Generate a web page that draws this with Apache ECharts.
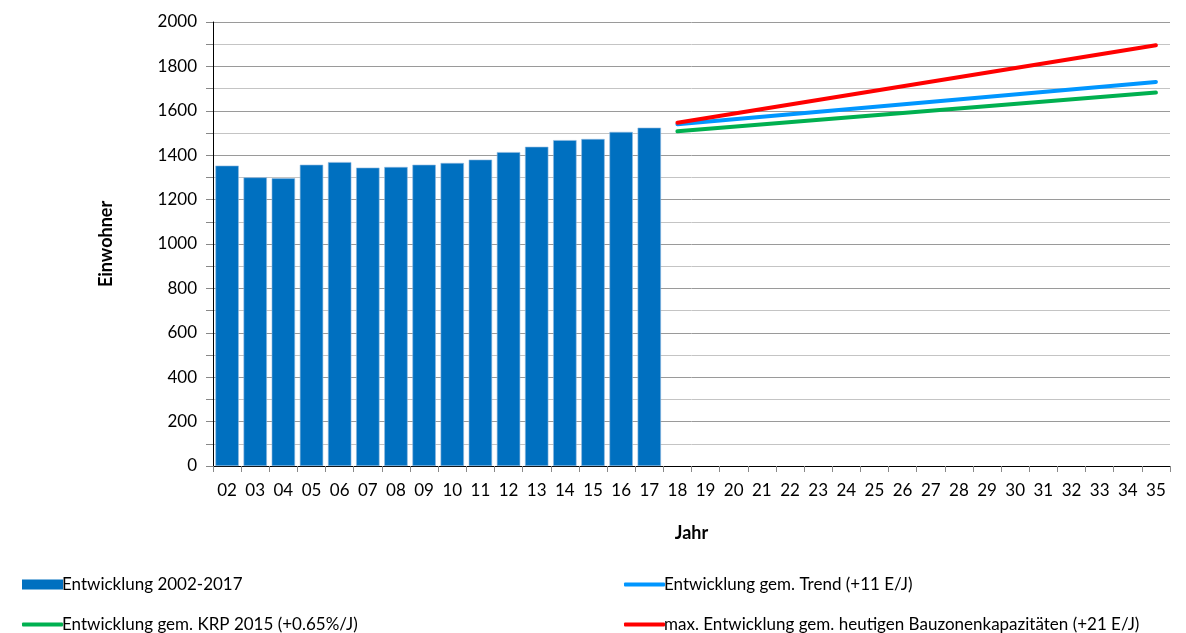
<!DOCTYPE html>
<html><head><meta charset="utf-8">
<script src="https://cdn.jsdelivr.net/npm/echarts@6/dist/echarts.min.js"></script>
<style>html,body{margin:0;padding:0;background:#fff}#c{width:1186px;height:633px}</style>
</head><body><div id="c"></div>
<script>
const years = ['02','03','04','05','06','07','08','09','10','11','12','13','14','15','16','17','18','19','20','21','22','23','24','25','26','27','28','29','30','31','32','33','34','35'];
const historic = [1353,1300,1296,1357,1369,1344,1347,1357,1365,1380,1414,1438,1468,1473,1505,1524];
// projections: start (2018) and end (2035)
const trendStart = 1539, trendEnd = 1730;
const krpStart = 1508, krpEnd = 1682;
const maxStart = 1546, maxEnd = 1895;
const names = ['Entwicklung 2002-2017','Entwicklung gem. Trend (+11 E/J)','Entwicklung gem. KRP 2015 (+0.65%/J)','max. Entwicklung gem. heutigen Bauzonenkapazitäten (+21 E/J)'];

function endpoints(a, b) {
  const arr = years.map(() => null);
  arr[years.indexOf('18')] = a;
  arr[years.indexOf('35')] = b;
  return arr;
}
const barData = years.map((y, i) => i < historic.length ? historic[i] : null);
const font = 'Lato, "Open Sans", sans-serif';
const legendBase = { itemWidth: 41, itemHeight: 10, itemGap: 0, textStyle: { fontFamily: font, fontSize: 17, color: '#000', padding: [0,0,0,-6] } };
const chart = echarts.init(document.getElementById('c'), null, { renderer: 'canvas' });
chart.setOption({
  animation: false,
  grid: { left: 213, right: 16, top: 22, bottom: 167 },
  legend: [
    Object.assign({}, legendBase, { left: 17, top: 571, data: [{ name: names[0], icon: 'rect', itemStyle: { borderWidth: 0, color: '#0070C0' } }] }),
    Object.assign({}, legendBase, { left: 619, top: 571, data: [{ name: names[1], icon: 'roundRect' }], itemHeight: 4 }),
    Object.assign({}, legendBase, { left: 17, top: 611, data: [{ name: names[2], icon: 'roundRect' }], itemHeight: 4 }),
    Object.assign({}, legendBase, { left: 619, top: 611, data: [{ name: names[3], icon: 'roundRect' }], itemHeight: 4 })
  ],
  xAxis: {
    type: 'category', data: years, boundaryGap: true,
    name: 'Jahr', nameLocation: 'middle', nameGap: 58,
    nameTextStyle: { fontFamily: font, fontSize: 18, fontWeight: 'bold', color: '#000' },
    axisLine: { lineStyle: { color: '#000', width: 1 } },
    axisTick: { show: true, length: 6, lineStyle: { color: '#888' } },
    axisLabel: { fontFamily: font, fontSize: 17, color: '#000', margin: 16, interval: 0 }
  },
  yAxis: {
    type: 'value', min: 0, max: 2000, interval: 200,
    name: 'Einwohner', nameLocation: 'middle', nameGap: 98,
    nameTextStyle: { fontFamily: font, fontSize: 18, fontWeight: 'bold', color: '#000' },
    axisLine: { show: true, lineStyle: { color: '#000', width: 1 } },
    axisTick: { show: true, length: 7, lineStyle: { color: '#888' } },
    minorTick: { show: true, splitNumber: 2, length: 7, lineStyle: { color: '#888' } },
    axisLabel: { fontFamily: font, fontSize: 17, color: '#000', margin: 16, formatter: v => String(v) },
    splitLine: { show: true, lineStyle: { color: '#9a9a9a', width: 1 } },
    minorSplitLine: { show: true, lineStyle: { color: '#c4c4c4', width: 1 } }
  },
  series: [
    { name: names[0], type: 'bar', data: barData, barCategoryGap: '17%', itemStyle: { color: '#0070C0', borderColor: '#8fb8df', borderWidth: 0.6 }, z: 2 },
    { name: names[1], type: 'line', data: endpoints(trendStart, trendEnd), connectNulls: true, symbol: 'none', lineStyle: { color: '#0096FF', width: 4, cap: 'round' }, itemStyle: { color: '#0096FF' }, z: 4 },
    { name: names[2], type: 'line', data: endpoints(krpStart, krpEnd), connectNulls: true, symbol: 'none', lineStyle: { color: '#00B050', width: 4, cap: 'round' }, itemStyle: { color: '#00B050' }, z: 3 },
    { name: names[3], type: 'line', data: endpoints(maxStart, maxEnd), connectNulls: true, symbol: 'none', lineStyle: { color: '#FF0000', width: 4, cap: 'round' }, itemStyle: { color: '#FF0000' }, z: 5 }
  ]
});
</script></body></html>
